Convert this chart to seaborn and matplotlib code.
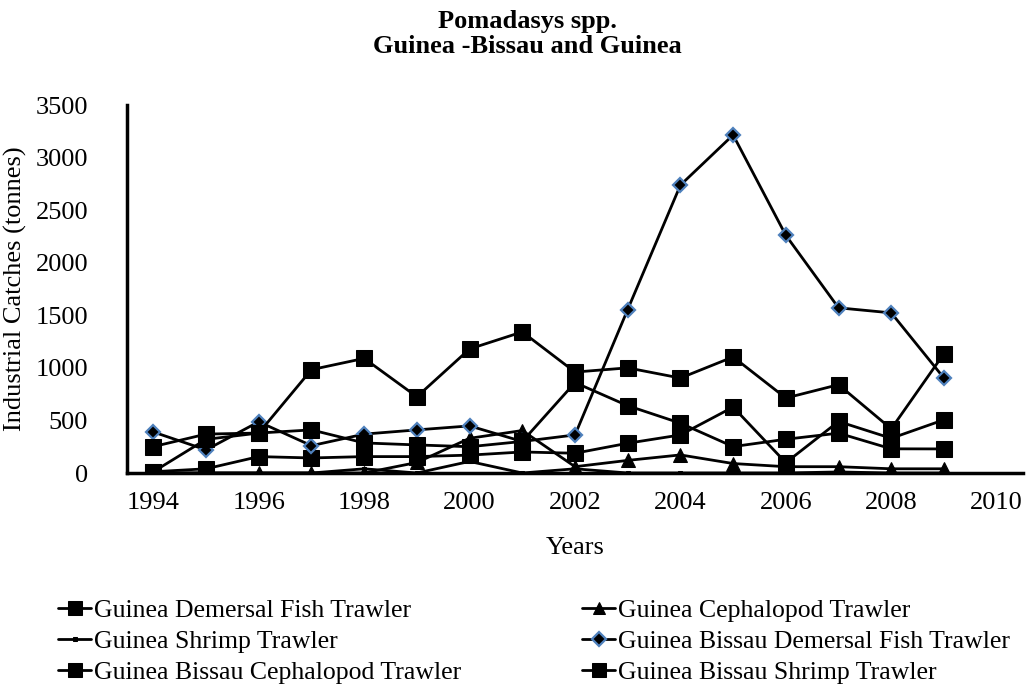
import numpy as np
import pandas as pd
import matplotlib
matplotlib.use("Agg")
import matplotlib.pyplot as plt
import seaborn as sns
from matplotlib.ticker import FixedLocator

# Data (tonnes)
years = list(range(1994, 2010))

guinea_demersal = [12, 40, 156, 143, 156, 156, 170, 200, 188, 283, 362, 627, 98, 490, 330, 506]
guinea_cephalopod = [0, 0, 0, 0, 0, 100, 330, 404, 60, 120, 172, 90, 60, 60, 40, 40]
guinea_shrimp = [0, 0, 0, 0, 40, 0, 110, 0, 40, 0, 0, 0, 0, 10, 0, 0]
gb_demersal = [390, 220, 487, 260, 370, 410, 448, 300, 362, 1555, 2738, 3215, 2261, 1571, 1523, 903]
gb_cephalopod = [12, 320, 380, 410, 286, 267, 250, 300, 860, 640, 474, 251, 321, 379, 230, 229]
gb_shrimp = [251, 370, 380, 983, 1090, 725, 1180, 1342, 960, 1000, 903, 1104, 713, 840, 420, 1135]

year_labels = list(range(1994, 2011, 2))
y_ticks = list(range(0, 3501, 500))

sns.set_style("white")
plt.rcParams["font.family"] = ["Liberation Serif", "DejaVu Serif"]
plt.rcParams["text.color"] = "black"
plt.rcParams["axes.labelcolor"] = "black"

fig = plt.figure(figsize=(10.34, 6.88), dpi=100)
ax = fig.add_axes([127 / 1034, 1 - 473 / 688, (1023 - 127) / 1034, (473 - 105) / 688])

blue_edge = "#4F81BD"
series = [
    ("Guinea Demersal Fish Trawler", guinea_demersal, dict(marker="s", markersize=11, markeredgecolor="black")),
    ("Guinea Cephalopod Trawler", guinea_cephalopod, dict(marker="^", markersize=10, markeredgecolor="black")),
    ("Guinea Shrimp Trawler", guinea_shrimp, dict(marker="s", markersize=3, markeredgecolor="black")),
    ("Guinea Bissau Demersal Fish Trawler", gb_demersal, dict(marker="D", markersize=7.5,
                                                              markeredgecolor=blue_edge, markeredgewidth=1.6)),
    ("Guinea Bissau Cephalopod Trawler", gb_cephalopod, dict(marker="s", markersize=11, markeredgecolor="black")),
    ("Guinea Bissau Shrimp Trawler", gb_shrimp, dict(marker="s", markersize=11, markeredgecolor="black")),
]

for name, vals, style in series:
    sns.lineplot(x=years, y=vals, ax=ax, color="black", linewidth=2, label=name,
                 markerfacecolor="black", **style)

# axes look
ax.set_xlim(1993.5, 2010.5)
ax.set_ylim(0, 3500)
ax.xaxis.set_major_locator(FixedLocator(year_labels))
ax.xaxis.set_minor_locator(FixedLocator(np.arange(1993.5, 2011, 1)))
ax.set_yticks(y_ticks)
ax.tick_params(axis="x", which="major", length=0, pad=14, labelsize=19, colors="black")
ax.tick_params(axis="x", which="minor", length=6, width=2.2, direction="out", color="black")
ax.tick_params(axis="y", length=6, width=2.2, direction="out", pad=22, labelsize=19, colors="black")
for s in ["top", "right"]:
    ax.spines[s].set_visible(False)
for s in ["left", "bottom"]:
    ax.spines[s].set_linewidth(2.5)
    ax.spines[s].set_color("black")
    ax.spines[s].set_zorder(1)
ax.grid(False)

ax.set_xlabel("Years", fontsize=19, labelpad=16)
ax.set_ylabel("Industrial Catches (tonnes)", fontsize=19, labelpad=6)

fig.suptitle("Pomadasys spp.\nGuinea -Bissau and Guinea", x=0.51, y=0.985,
             fontsize=19, fontweight="bold", linespacing=1.1, color="black")

# legend in two columns below the plot
handles, labels = ax.get_legend_handles_labels()
ax.get_legend().remove()
order = [0, 2, 4, 1, 3, 5]
fig.legend([handles[i] for i in order], [labels[i] for i in order],
           loc="lower left", bbox_to_anchor=(0.056, 0.006), ncol=2, frameon=False,
           fontsize=18.5, handlelength=1.3, handletextpad=0.1, labelspacing=0.3,
           columnspacing=4.7, markerscale=0.9, borderpad=0, borderaxespad=0)

plt.savefig("out.png", dpi=100)
